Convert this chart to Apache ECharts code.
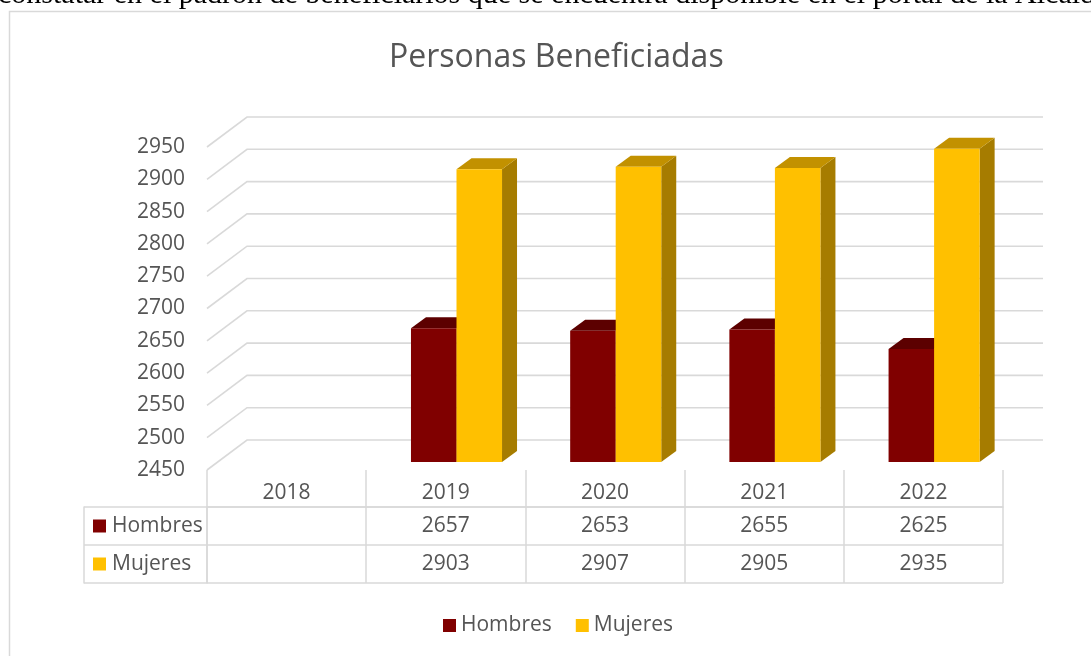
<!DOCTYPE html>
<html>
<head>
<meta charset="utf-8">
<script src="https://cdn.jsdelivr.net/npm/echarts@6/dist/echarts.min.js"></script>
<style>
  html, body { margin: 0; padding: 0; background: #fff; }
  #chart { width: 1091px; height: 656px; }
</style>
</head>
<body>
<div id="chart"></div>
<script>
const years = ['2018', '2019', '2020', '2021', '2022']
const seriesNames = ['Hombres', 'Mujeres']
const hombres = [null, 2657, 2653, 2655, 2625]
const mujeres = [null, 2903, 2907, 2905, 2935]
const yTicks = [2450, 2500, 2550, 2600, 2650, 2700, 2750, 2800, 2850, 2900, 2950]

const font = '"Open Sans", sans-serif'
const textColor = '#555555'
const lineColor = '#d9d9d9'
const fs = 21

// front, top, side colours for the pseudo-3d columns
const colHombres = ['#800000', '#5c0000', '#5c0000']
const colMujeres = ['#ffc000', '#c29100', '#a67c00']

// floor depth of the 3d plot, and where the bars sit inside it
const depth = [40, -30]
const barShift = [10.7, -8]
const barDepth = [15, -11]

function gridLines(params, api) {
  const y = api.coord([0, api.value(1)])[1]
  const x = params.coordSys.x
  const w = params.coordSys.width
  return {
    type: 'polyline',
    shape: { points: [[x, y], [x + depth[0], y + depth[1]], [x + depth[0] + w, y + depth[1]]] },
    style: { stroke: lineColor, lineWidth: 1.6, fill: null },
    silent: true
  }
}

function bar3d(slot, colors) {
  return function (params, api) {
    const v = api.value(1)
    if (v == null || isNaN(v)) return
    const idx = api.value(0)
    const top = api.coord([idx, v])
    const base = api.coord([idx, yTicks[0]])
    const bw = api.size([1, 0])[0] * 0.286
    const x0 = top[0] + barShift[0] + slot * bw
    const x1 = x0 + bw
    const yt = top[1] + barShift[1]
    const yb = base[1] + barShift[1]
    const dx = barDepth[0], dy = barDepth[1]
    return {
      type: 'group',
      children: [
        {
          type: 'polygon',
          shape: { points: [[x1, yt], [x1 + dx, yt + dy], [x1 + dx, yb + dy], [x1, yb]] },
          style: { fill: colors[2] }
        },
        {
          type: 'polygon',
          shape: { points: [[x0, yt], [x1, yt], [x1 + dx, yt + dy], [x0 + dx, yt + dy]] },
          style: { fill: colors[1] }
        },
        {
          type: 'rect',
          shape: { x: x0, y: yt, width: bw, height: yb - yt },
          style: { fill: colors[0] }
        }
      ]
    }
  }
}

// data table cells: text at the centre of each (year, series) cell
function tableCell(params, api) {
  const p = api.coord([api.value(0), api.value(1)])
  return {
    type: 'text',
    x: p[0],
    y: p[1],
    style: {
      text: String(api.value(2)),
      fill: textColor,
      font: fs + 'px ' + font,
      align: 'center',
      verticalAlign: 'middle'
    },
    silent: true
  }
}

const tableCells = []
hombres.forEach((v, i) => { if (v != null) tableCells.push([i, 0, v]) })
mujeres.forEach((v, i) => { if (v != null) tableCells.push([i, 1, v]) })

const myChart = echarts.init(document.getElementById('chart'))
const option = {
  animation: false,
  backgroundColor: '#fff',
  textStyle: { fontFamily: font },
  title: {
    text: 'Personas Beneficiadas',
    left: 384,
    top: 37,
    textStyle: { fontFamily: font, fontSize: 32, fontWeight: 'normal', color: textColor }
  },
  graphic: [
    {
      type: 'rect',
      shape: { x: 9.5, y: 11.5, width: 1200, height: 800 },
      style: { fill: null, stroke: lineColor, lineWidth: 1.5 },
      silent: true
    },
    {
      type: 'text',
      x: -2,
      y: -20,
      style: {
        text: 'constatar en el padrón de beneficiarios que se encuentra disponible en el portal de la Alcaldía',
        font: '30px "Liberation Serif"',
        fill: '#000'
      },
      silent: true
    }
  ],
  legend: {
    data: seriesNames,
    bottom: 15,
    left: 438,
    icon: 'rect',
    itemWidth: 13,
    itemHeight: 13,
    itemGap: 24,
    textStyle: { fontFamily: font, fontSize: fs, color: textColor }
  },
  grid: [
    { left: 207, top: 147, width: 796, height: 323 },
    { left: 207, top: 507, width: 796, height: 76 }
  ],
  xAxis: [
    { gridIndex: 0, type: 'category', data: years, show: false },
    {
      gridIndex: 1,
      type: 'category',
      data: years,
      position: 'top',
      axisLine: { show: true, lineStyle: { color: lineColor, width: 1.5 } },
      axisTick: { show: true, length: 37, interval: 0, alignWithLabel: false, lineStyle: { color: lineColor, width: 1.5 } },
      splitLine: { show: true, interval: 0, lineStyle: { color: lineColor, width: 1.5 } },
      axisLabel: { margin: 14, verticalAlign: 'middle', fontSize: fs, color: textColor, fontFamily: font }
    }
  ],
  yAxis: [
    {
      gridIndex: 0,
      type: 'value',
      min: 2450,
      max: 2950,
      interval: 50,
      axisLine: { show: false },
      axisTick: { show: false },
      splitLine: { show: false },
      axisLabel: { margin: 22, fontSize: fs, color: textColor, fontFamily: font, formatter: v => String(v) }
    },
    {
      gridIndex: 1,
      type: 'category',
      data: seriesNames,
      inverse: true,
      axisLine: { show: true, lineStyle: { color: lineColor, width: 1.5 } },
      axisTick: { show: true, length: 123, interval: 0, alignWithLabel: false, lineStyle: { color: lineColor, width: 1.5 } },
      splitLine: { show: true, interval: 0, lineStyle: { color: lineColor, width: 1.5 } },
      axisLabel: {
        align: 'left',
        margin: 114,
        formatter: v => (v === 'Hombres' ? '{h|}' : '{m|}') + '{t|' + v + '}',
        rich: {
          h: { width: 13, height: 13, backgroundColor: colHombres[0] },
          m: { width: 13, height: 13, backgroundColor: colMujeres[0] },
          t: { fontSize: fs, color: textColor, fontFamily: font, padding: [0, 0, 0, 6] }
        }
      }
    },
    {
      gridIndex: 1,
      type: 'category',
      data: seriesNames,
      inverse: true,
      position: 'left',
      offset: 123,
      axisLine: { show: true, lineStyle: { color: lineColor, width: 1.5 } },
      axisTick: { show: false },
      axisLabel: { show: false },
      splitLine: { show: false }
    }
  ],
  series: [
    {
      type: 'custom',
      name: 'grid',
      xAxisIndex: 0,
      yAxisIndex: 0,
      clip: false,
      z: 1,
      silent: true,
      renderItem: gridLines,
      data: yTicks.map(v => [0, v])
    },
    {
      type: 'custom',
      name: seriesNames[0],
      xAxisIndex: 0,
      yAxisIndex: 0,
      clip: false,
      z: 2,
      itemStyle: { color: colHombres[0] },
      renderItem: bar3d(-1, colHombres),
      encode: { x: 0, y: 1 },
      data: hombres.map((v, i) => [i, v])
    },
    {
      type: 'custom',
      name: seriesNames[1],
      xAxisIndex: 0,
      yAxisIndex: 0,
      clip: false,
      z: 3,
      itemStyle: { color: colMujeres[0] },
      renderItem: bar3d(0, colMujeres),
      encode: { x: 0, y: 1 },
      data: mujeres.map((v, i) => [i, v])
    },
    {
      type: 'custom',
      name: 'tabla',
      xAxisIndex: 1,
      yAxisIndex: 1,
      clip: false,
      silent: true,
      renderItem: tableCell,
      encode: { x: 0, y: 1 },
      data: tableCells
    }
  ]
}
myChart.setOption(option)
</script>
</body>
</html>
